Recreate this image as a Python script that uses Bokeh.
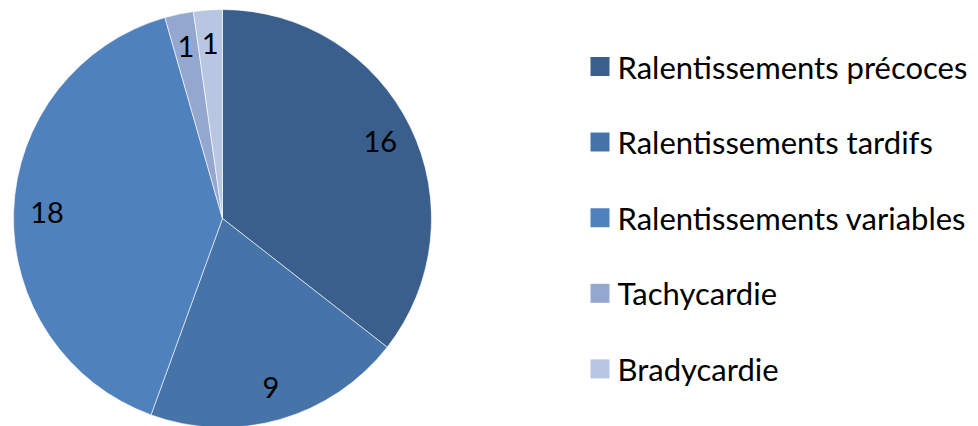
import numpy as np
from bokeh.plotting import figure
from bokeh.models import ColumnDataSource, Range1d
from bokeh.core.properties import value
from bokeh.embed import file_html
from bokeh.resources import INLINE

categories = ["Ralentissements précoces", "Ralentissements tardifs",
              "Ralentissements variables", "Tachycardie", "Bradycardie"]
counts = [16, 9, 18, 1, 1]
colors = ["#3B5F8D", "#4674A8", "#4F81BD", "#94A8CF", "#B9C6E1"]

W, H = 978, 426
p = figure(width=W, height=H, output_backend="svg", toolbar_location=None,
           x_range=Range1d(0, W), y_range=Range1d(0, H), min_border=0)
p.axis.visible = False
p.grid.visible = False
p.outline_line_color = None
p.background_fill_color = "white"

cx, cy, R = 222, H - 218, 209
vals = np.array(counts, dtype=float)
frac = vals / vals.sum()
cum = np.concatenate([[0], np.cumsum(frac)])
start = np.pi / 2 - 2 * np.pi * cum[:-1]
end = np.pi / 2 - 2 * np.pi * cum[1:]
mid = (start + end) / 2

src = ColumnDataSource(dict(start=start, end=end, color=colors,
                            lx=cx + 0.84 * R * np.cos(mid),
                            ly=cy + 0.84 * R * np.sin(mid),
                            lab=[str(c) for c in counts]))
p.wedge(x=cx, y=cy, radius=R, start_angle="end", end_angle="start",
        fill_color="color", line_color="white", line_width=0.6, source=src)
p.text(x="lx", y="ly", text="lab", source=src, text_align="center",
       text_baseline="middle", text_font=value("Lato"),
       text_font_size="29px", text_color="black")

rows_y = H - (66 + 75.6 * np.arange(len(categories)))
leg = ColumnDataSource(dict(y=rows_y, color=colors, name=categories))
p.rect(x=599.5, y="y", width=19, height=19, fill_color="color",
       line_color=None, source=leg)
p.text(x=617, y="y", text="name", source=leg, text_align="left",
       text_baseline="middle", text_font=value("Lato"),
       text_font_size="31px", text_color="black")

open("out.html", "w").write(file_html(p, INLINE))
